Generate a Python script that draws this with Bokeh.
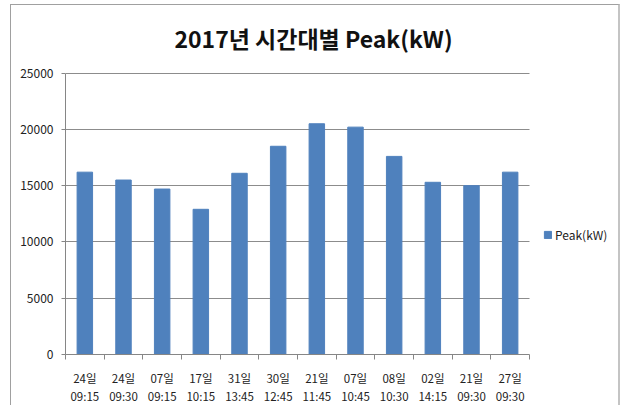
from bokeh.plotting import figure
from bokeh.models import FixedTicker, Legend, LegendItem, Label, ColumnDataSource, Range1d
from bokeh.embed import file_html
from bokeh.resources import INLINE

days = ["24일", "24일", "07일", "17일", "31일", "30일", "21일", "07일", "08일", "02일", "21일", "27일"]
times = ["09:15", "09:30", "09:15", "10:15", "13:45", "12:45", "11:45", "10:45", "10:30", "14:15", "09:30", "09:30"]
peak = [16200, 15500, 14700, 12900, 16100, 18500, 20500, 20200, 17600, 15300, 15000, 16200]
y_ticks = [0, 5000, 10000, 15000, 20000, 25000]
y_max = 25000

n = len(peak)
xs = [i + 0.5 for i in range(n)]
labels = [f"{d}\n{t}" for d, t in zip(days, times)]
src = ColumnDataSource(dict(x=xs, peak=peak))

# layout in pixels: plot area 464 x 283; the frame is extended to hold title and legend
W, H = 610, 401
left, bottom = 54, 50
frame_w, frame_h = W - left, H - bottom
plot_w, plot_h = 464, 283

p = figure(width=W, height=H, output_backend="svg", toolbar_location=None,
           x_range=Range1d(0, n * frame_w / plot_w), y_range=Range1d(0, y_max * frame_h / plot_h),
           min_border_left=left, min_border_right=0, min_border_top=0, min_border_bottom=bottom)
p.styles = {"margin-left": "10px", "margin-top": "4px",
            "border-top": "1px solid #a0a0a0", "border-left": "1px solid #a0a0a0",
            "border-right": "2px solid #c4c4c4"}
p.outline_line_color = None
p.background_fill_color = "white"
p.border_fill_color = "white"

r = p.vbar(x="x", top="peak", width=0.4, source=src, color="#4F81BD", line_color="#4F81BD")

# axes
p.xaxis.bounds = (0, n)
p.xaxis.ticker = FixedTicker(ticks=xs, minor_ticks=list(range(n + 1)))
p.xaxis.major_label_overrides = {x: l for x, l in zip(xs, labels)}
p.xaxis.major_tick_line_color = None
p.xaxis.minor_tick_line_color = "#868686"
p.xaxis.minor_tick_out = 5
p.xaxis.minor_tick_in = 0
p.xaxis.axis_line_color = "#868686"
p.xaxis.major_label_text_font = "Noto Sans CJK KR"
p.xaxis.major_label_text_font_size = "11.5px"
p.xaxis.major_label_text_color = "#222222"
p.xaxis.major_label_standoff = 9
p.xaxis.major_label_text_line_height = 1.15

p.yaxis.bounds = (0, y_max)
p.yaxis.ticker = FixedTicker(ticks=y_ticks)
p.yaxis.axis_line_color = "#868686"
p.yaxis.major_tick_line_color = "#868686"
p.yaxis.major_tick_out = 4
p.yaxis.major_tick_in = 0
p.yaxis.minor_tick_line_color = None
p.yaxis.major_label_text_font = "Noto Sans CJK KR"
p.yaxis.major_label_text_font_size = "12px"
p.yaxis.major_label_text_color = "#222222"
p.yaxis.major_label_standoff = 8

p.xgrid.grid_line_color = None
p.ygrid.ticker = FixedTicker(ticks=y_ticks)
p.ygrid.cross_bounds = (0, n)
p.ygrid.grid_line_color = "#8c8c8c"

title = Label(x=248, y=317, x_units="screen", y_units="screen",
              text="2017년 시간대별 Peak(kW)", text_align="center", text_baseline="middle",
              text_font="Noto Sans CJK KR", text_font_size="23px", text_font_style="bold",
              text_color="#111111")
p.add_layout(title)

legend = Legend(items=[LegendItem(label="Peak(kW)", renderers=[r])], location=(478, 111),
                label_text_font="Noto Sans CJK KR", label_text_font_size="12px",
                label_text_color="#222222", glyph_width=9, glyph_height=9,
                label_standoff=3, padding=0, margin=0, border_line_color=None,
                background_fill_alpha=0)
p.add_layout(legend, "center")

open("out.html", "w").write(file_html(p, INLINE))
